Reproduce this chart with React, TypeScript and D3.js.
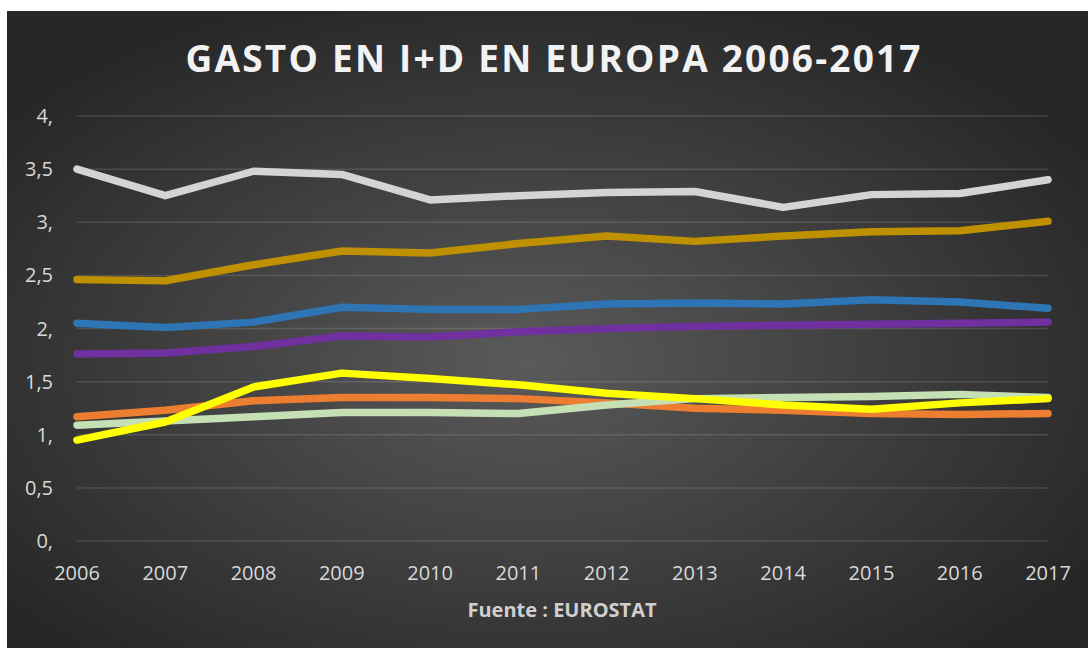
import React from "react";
import * as d3 from "d3";

const years = [2006, 2007, 2008, 2009, 2010, 2011, 2012, 2013, 2014, 2015, 2016, 2017];
const yTicks = [0, 0.5, 1, 1.5, 2, 2.5, 3, 3.5, 4];
const yTickLabels = ["0,", "0,5", "1,", "1,5", "2,", "2,5", "3,", "3,5", "4,"];

const suecia = [3.5, 3.25, 3.48, 3.45, 3.21, 3.25, 3.28, 3.29, 3.14, 3.26, 3.27, 3.4];
const alemania = [2.46, 2.45, 2.6, 2.73, 2.71, 2.8, 2.87, 2.82, 2.87, 2.91, 2.92, 3.01];
const francia = [2.05, 2.01, 2.06, 2.2, 2.18, 2.18, 2.23, 2.24, 2.23, 2.27, 2.25, 2.19];
const ue28 = [1.76, 1.77, 1.83, 1.93, 1.92, 1.97, 2.0, 2.02, 2.03, 2.04, 2.05, 2.06];
const espana = [1.17, 1.23, 1.32, 1.35, 1.35, 1.34, 1.3, 1.25, 1.23, 1.2, 1.19, 1.2];
const italia = [1.09, 1.13, 1.17, 1.21, 1.21, 1.2, 1.28, 1.34, 1.35, 1.36, 1.38, 1.35];
const portugal = [0.95, 1.12, 1.45, 1.58, 1.53, 1.47, 1.39, 1.34, 1.28, 1.24, 1.3, 1.34];

const seriesNames = ["Suecia", "Alemania", "Francia", "UE-28", "España", "Italia", "Portugal"];
const seriesValues = [suecia, alemania, francia, ue28, espana, italia, portugal];
const seriesColors = ["#d4d4d4", "#bf9000", "#2e75b6", "#7030a0", "#ed7d31", "#c5e0b4", "#ffff00"];

const title = "GASTO EN I+D EN EUROPA 2006-2017";
const source = "Fuente : EUROSTAT";

export default function App() {
  const W = 1088;
  const H = 648;
  const x = d3.scalePoint<number>().domain(years).range([77, 1048]);
  const y = d3.scaleLinear().domain([0, 4]).range([541, 116]);
  const line = d3
    .line<number>()
    .x((_, i) => x(years[i]) as number)
    .y((d) => y(d));
  const font = "'Open Sans', 'DejaVu Sans', sans-serif";

  return (
    <svg
      width={W}
      height={H}
      style={{ position: "absolute", left: 0, top: 0, display: "block" }}
    >
      <defs>
        <radialGradient id="bg" cx="48%" cy="55%" r="62%" fx="48%" fy="55%">
          <stop offset="0%" stopColor="#5a5a5a" />
          <stop offset="100%" stopColor="#262626" />
        </radialGradient>
      </defs>
      <rect x={0} y={0} width={W} height={H} fill="#ffffff" />
      <rect x={7} y={11} width={W - 7} height={H - 11} fill="url(#bg)" />

      <text
        x={553}
        y={72}
        textAnchor="middle"
        fontFamily={font}
        fontWeight={700}
        fontSize={37}
        fill="#f2f2f2"
        textLength={735}
        lengthAdjust="spacing"
      >
        {title}
      </text>

      {yTicks.map((t, i) => (
        <g key={t}>
          <line
            x1={77}
            x2={1048}
            y1={y(t)}
            y2={y(t)}
            stroke="#ffffff"
            strokeOpacity={0.13}
            strokeWidth={1.5}
          />
          <text
            x={53}
            y={y(t)}
            dy="0.35em"
            textAnchor="end"
            fontFamily={font}
            fontSize={20}
            fill="#d9d9d9"
          >
            {yTickLabels[i]}
          </text>
        </g>
      ))}

      {years.map((yr) => (
        <text
          key={yr}
          x={x(yr) as number}
          y={580}
          textAnchor="middle"
          fontFamily={font}
          fontSize={20}
          fill="#d9d9d9"
        >
          {yr}
        </text>
      ))}

      {seriesValues.map((vals, i) => (
        <path
          key={seriesNames[i]}
          d={line(vals) || ""}
          fill="none"
          stroke={seriesColors[i]}
          strokeWidth={7.5}
          strokeLinejoin="round"
          strokeLinecap="round"
        >
          <title>{seriesNames[i]}</title>
        </path>
      ))}

      <text
        x={562}
        y={617}
        textAnchor="middle"
        fontFamily={font}
        fontWeight={700}
        fontSize={20}
        fill="#d0d0d0"
      >
        {source}
      </text>
    </svg>
  );
}
